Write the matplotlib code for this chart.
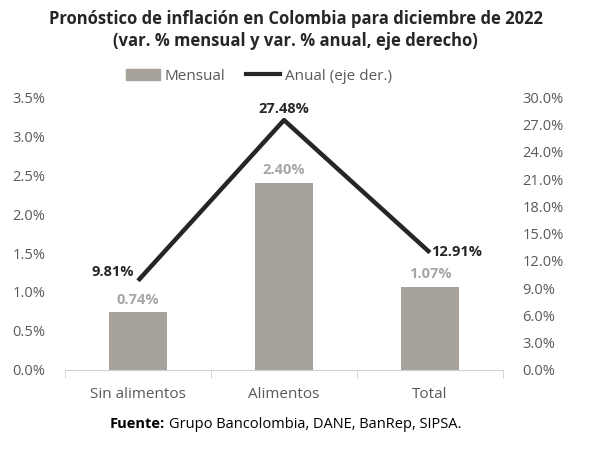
import matplotlib
matplotlib.use("Agg")
import matplotlib.pyplot as plt
from matplotlib.ticker import FuncFormatter, FixedLocator
from matplotlib.patches import Patch
from matplotlib.lines import Line2D

categories = ["Sin alimentos", "Alimentos", "Total"]
mensual = [0.74, 2.40, 1.07]
anual = [9.81, 27.48, 12.91]
left_ticks = [0.0, 0.5, 1.0, 1.5, 2.0, 2.5, 3.0, 3.5]
right_ticks = [0, 3, 6, 9, 12, 15, 18, 21, 24, 27, 30]

plt.rcParams['font.family'] = ['Open Sans', 'DejaVu Sans']

bar_color = "#A8A29C"
line_color = "#262626"
tick_color = "#595959"

fig = plt.figure(figsize=(5.91, 4.5), dpi=100)
ax = fig.add_axes([0.11, 0.178, 0.741, 0.606])
ax2 = ax.twinx()

x = list(range(len(categories)))
ax.bar(x, mensual, width=0.4, color=bar_color, zorder=2)
ax.set_xlim(-0.5, 2.5)
ax.set_ylim(0, 3.5)
ax.yaxis.set_major_locator(FixedLocator(left_ticks))
ax.yaxis.set_major_formatter(FuncFormatter(lambda v, p: f"{v:.1f}%"))

ax2.plot(x, anual, color=line_color, lw=3.2, zorder=3, solid_capstyle='butt')
ax2.set_ylim(0, 30)
ax2.yaxis.set_major_locator(FixedLocator(right_ticks))
ax2.yaxis.set_major_formatter(FuncFormatter(lambda v, p: f"{v:.1f}%"))

for a in (ax, ax2):
    for s in ("top", "left", "right", "bottom"):
        a.spines[s].set_visible(False)
    a.tick_params(axis='y', length=0, labelsize=10.5, labelcolor=tick_color)
ax.tick_params(axis='y', pad=14)
ax2.tick_params(axis='y', pad=14)

ax.spines["bottom"].set_visible(True)
ax.spines["bottom"].set_color("#D0D0D0")
ax.set_xticks(x)
ax.set_xticklabels(categories)
ax.tick_params(axis='x', length=0, labelsize=11, labelcolor=tick_color, pad=12)
ax.set_xticks([-0.5, 0.5, 1.5, 2.5], minor=True)
ax.tick_params(axis='x', which='minor', length=6, color="#D0D0D0")

for i, v in enumerate(mensual):
    ax.annotate(f"{v:.2f}%", (i, v), xytext=(0, 4), textcoords="offset points",
                ha="center", va="bottom", color="#A6A6A6", fontsize=10.5, fontweight="bold")

offsets = [(-3, 1, "right", "bottom"), (0, 3, "center", "bottom"), (1, -5, "left", "bottom")]
for i, v in enumerate(anual):
    dx, dy, ha, va = offsets[i]
    ax2.annotate(f"{v:.2f}%", (i, v), xytext=(dx, dy), textcoords="offset points",
                 ha=ha, va=va, color=line_color, fontsize=10.5, fontweight="bold")

handles = [Patch(color=bar_color, label="Mensual"),
           Line2D([0], [0], color=line_color, lw=3, label="Anual (eje der.)")]
fig.legend(handles=handles, loc="center", bbox_to_anchor=(0.438, 0.831), ncol=2,
           frameon=False, fontsize=11, handlelength=2.2, handletextpad=0.3,
           columnspacing=1.4, labelcolor=tick_color)

fig.text(0.5, 0.958, "Pronóstico de inflación en Colombia para diciembre de 2022",
         ha="center", va="center", fontsize=12, fontweight="bold", color="#262626")
fig.text(0.5, 0.91, "(var. % mensual y var. % anual, eje derecho)",
         ha="center", va="center", fontsize=12, fontweight="bold", color="#262626")

t1 = fig.text(0.186, 0.057, "Fuente:", ha="left", va="center", fontsize=10.5,
              fontweight="bold", color="#000000")
fig.canvas.draw()
bb = t1.get_window_extent()
x1 = fig.transFigure.inverted().transform((bb.x1, bb.y0))[0]
fig.text(x1 + 0.006, 0.057, "Grupo Bancolombia, DANE, BanRep, SIPSA.", ha="left",
         va="center", fontsize=10.5, color="#000000")

fig.savefig("out.png", dpi=100)
